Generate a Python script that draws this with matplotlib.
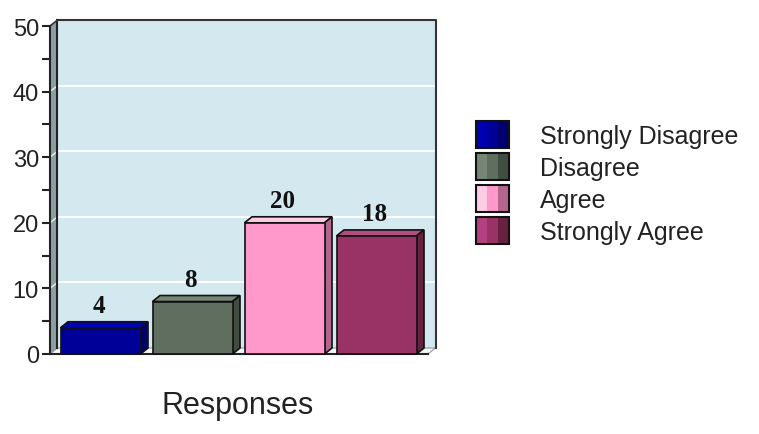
import matplotlib
matplotlib.use("Agg")
import matplotlib.pyplot as plt
from matplotlib.patches import Rectangle, Polygon, Patch
from matplotlib.legend_handler import HandlerBase

categories = ["Strongly Disagree", "Disagree", "Agree", "Strongly Agree"]
values = [4, 8, 20, 18]
front_colors = ["#000099", "#5f6e5f", "#ff99cc", "#993366"]
top_colors = ["#0000bb", "#768676", "#ffcce6", "#b34d80"]
side_colors = ["#000066", "#404c40", "#b3668c", "#66223f"]
legend_light = ["#0000b3", "#768676", "#ffcce6", "#b34080"]
legend_dark = ["#00006e", "#434e43", "#b3668c", "#66223f"]
x_title = "Responses"
y_ticks = [0, 10, 20, 30, 40, 50]

W, H = 759, 435
fig = plt.figure(figsize=(W / 100, H / 100), dpi=100)
fig.patch.set_facecolor("white")

ax_l, ax_r, ax_b, ax_t = 50, 428, 355, 27
ax = fig.add_axes([ax_l / W, (H - ax_b) / H, (ax_r - ax_l) / W, (ax_b - ax_t) / H])
ax.patch.set_visible(False)

pitch = 92.0
xlim0 = -0.549
xlim1 = xlim0 + (ax_r - ax_l) / pitch
ax.set_xlim(xlim0, xlim1)
ax.set_ylim(0, 50)
ppu_y = (ax_b - ax_t) / 50.0
dx = 7.5 / pitch
dy = 6.0 / ppu_y

# back wall
ax.add_patch(Rectangle((xlim0 + dx, dy), xlim1 - xlim0, 50, facecolor="#d3e8ef",
                       edgecolor="none", zorder=0, clip_on=False))
ax.plot([xlim0 + dx, xlim1 + dx, xlim1 + dx], [50 + dy, 50 + dy, dy], color="#333333",
        lw=1.5, zorder=1, clip_on=False)
# left wall
ax.add_patch(Polygon([(xlim0, 0), (xlim0 + dx, dy), (xlim0 + dx, 50 + dy), (xlim0, 50)],
                     closed=True, facecolor="#8e9ea5", edgecolor="none", zorder=0.5,
                     clip_on=False))
ax.plot([xlim0 + dx, xlim0 + dx], [dy, 50 + dy], color="#222222", lw=1.5, zorder=1,
        clip_on=False)
ax.plot([xlim0, xlim0 + dx], [50, 50 + dy], color="#333333", lw=1.2, zorder=1,
        clip_on=False)
# floor
ax.add_patch(Polygon([(xlim0, 0), (xlim1, 0), (xlim1 + dx, dy), (xlim0 + dx, dy)],
                     closed=True, facecolor="#f4f6f7", edgecolor="#999999", lw=0.8,
                     zorder=0.6, clip_on=False))
# gridlines
for v in y_ticks[1:-1]:
    ax.plot([xlim0 + dx, xlim1 + dx], [v + dy, v + dy], color="white", lw=1.5, zorder=0.8,
            clip_on=False)
    ax.plot([xlim0, xlim0 + dx], [v, v + dy], color="#e8f0f2", lw=1.0, zorder=0.8,
            clip_on=False)

# bars
bw = 80 / pitch
xs = list(range(len(values)))
bars = ax.bar(xs, values, width=bw, color=front_colors, edgecolor="#111111", lw=1.2,
              zorder=3, clip_on=False)
for i, (x, v) in enumerate(zip(xs, values)):
    l, r = x - bw / 2, x + bw / 2
    ax.add_patch(Polygon([(l, v), (l + dx, v + dy), (r + dx, v + dy), (r, v)], closed=True,
                         facecolor=top_colors[i], edgecolor="#111111", lw=1.2, zorder=2.9,
                         clip_on=False))
    ax.add_patch(Polygon([(r, 0), (r + dx, dy), (r + dx, v + dy), (r, v)], closed=True,
                         facecolor=side_colors[i], edgecolor="#111111", lw=1.2, zorder=2.9,
                         clip_on=False))
    ax.text(x - 0.02, v + dy + 0.7, str(v), ha="center", va="bottom",
            fontsize=18, fontweight="bold", family="Liberation Serif", color="#111111",
            zorder=5)

# axes/spines
for s in ["top", "right"]:
    ax.spines[s].set_visible(False)
ax.spines["left"].set_color("#222222")
ax.spines["left"].set_linewidth(1.5)
ax.spines["bottom"].set_color("#222222")
ax.spines["bottom"].set_linewidth(1.5)
ax.set_xticks([])
ax.set_yticks(y_ticks)
ax.set_yticks([5, 15, 25, 35, 45], minor=True)
ax.tick_params(axis="y", which="both", direction="out", length=6, width=1.5,
               color="#222222", labelsize=17, pad=2, labelcolor="#222222")
for lab in ax.get_yticklabels():
    lab.set_family("Liberation Sans")

fig.text(238 / W, 1 - 406 / H, x_title, ha="center", va="center", fontsize=22,
         family="Liberation Sans", color="#222222")


class StripeHandler(HandlerBase):
    def create_artists(self, legend, orig_handle, xdescent, ydescent, width, height,
                       fontsize, trans):
        cols = orig_handle._stripes
        w = width / 3.0
        arts = []
        for k, c in enumerate(cols):
            arts.append(Rectangle((-xdescent + k * w, -ydescent), w, height, facecolor=c,
                                  edgecolor="none", transform=trans))
        arts.append(Rectangle((-xdescent, -ydescent), width, height, fill=False,
                              edgecolor="#111111", lw=1.5, transform=trans))
        return arts


handles = []
for i, c in enumerate(categories):
    p = Patch(facecolor=front_colors[i], label=c)
    p._stripes = (legend_light[i], front_colors[i], legend_dark[i])
    handles.append(p)

fs = 18
fs_px = fs * 100 / 72
hh = (27 / fs_px - 0.245) / 0.65
leg = fig.legend(handles=handles, loc="upper left", bbox_to_anchor=(476 / W, 1 - 122 / H),
                 bbox_transform=fig.transFigure, frameon=False, borderpad=0,
                 borderaxespad=0, handlelength=33 / fs_px, handleheight=hh,
                 handletextpad=31 / fs_px, labelspacing=5 / fs_px,
                 prop={"family": "Liberation Sans", "size": fs},
                 handler_map={Patch: StripeHandler()})
for t in leg.get_texts():
    t.set_color("#222222")

fig.savefig("out.png", dpi=100)
